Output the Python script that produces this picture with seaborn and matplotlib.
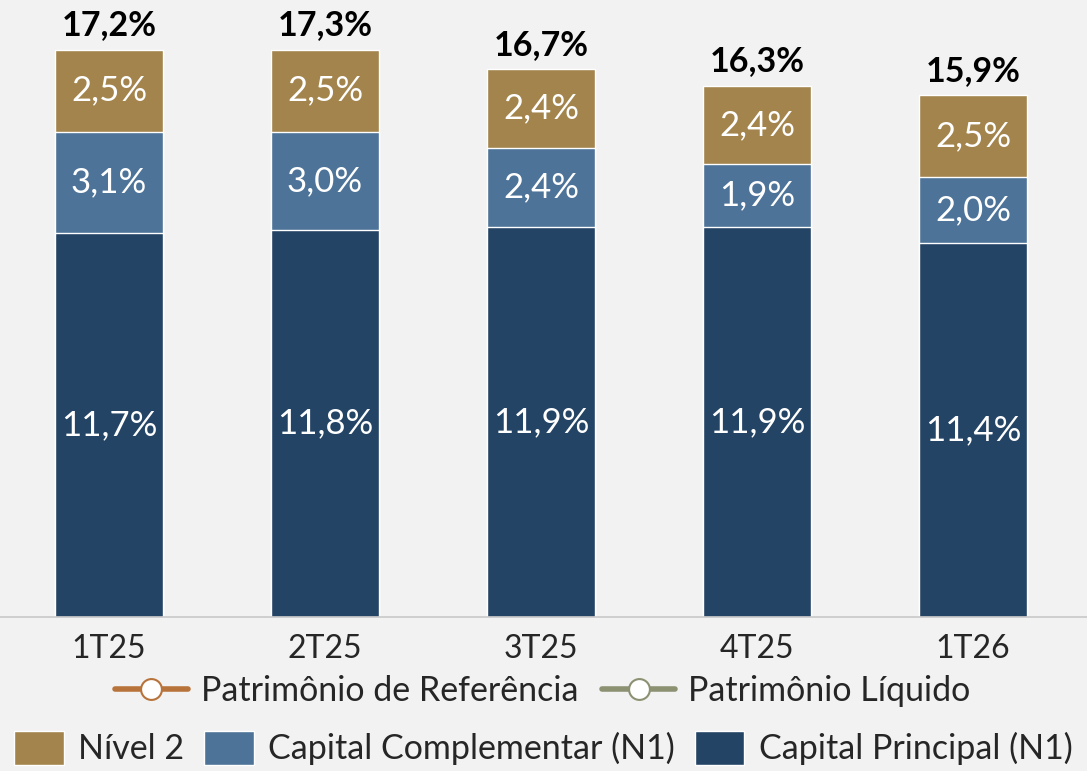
import matplotlib
matplotlib.use('Agg')
import matplotlib.pyplot as plt
import seaborn as sns
import pandas as pd
from matplotlib.lines import Line2D
from matplotlib.patches import Patch

quarters = ['1T25', '2T25', '3T25', '4T25', '1T26']
capital_principal = [11.7, 11.8, 11.9, 11.9, 11.4]
capital_complementar = [3.1, 3.0, 2.4, 1.9, 2.0]
nivel_2 = [2.5, 2.5, 2.4, 2.4, 2.5]
totals = [17.2, 17.3, 16.7, 16.3, 15.9]

col_n2 = '#A3844C'
col_comp = '#4D7399'
col_princ = '#244466'
bg = '#F2F2F2'

sns.set_theme(style='white')
plt.rcParams['font.family'] = ['Lato', 'DejaVu Sans']

df = pd.DataFrame({
    'quarter': quarters,
    'principal': capital_principal,
    'complementar': capital_complementar,
    'nivel2': nivel_2,
})
df['lvl2'] = df['principal'] + df['complementar']
df['lvl3'] = df['lvl2'] + df['nivel2']

fig = plt.figure(figsize=(10.87, 7.71), dpi=100, facecolor=bg)
ax = fig.add_axes([0, 1 - 617 / 771, 1, 617 / 771])
ax.set_facecolor(bg)

sns.barplot(data=df, x='quarter', y='lvl3', color=col_n2, width=0.5, saturation=1, ax=ax)
sns.barplot(data=df, x='quarter', y='lvl2', color=col_comp, width=0.5, saturation=1, ax=ax)
sns.barplot(data=df, x='quarter', y='principal', color=col_princ, width=0.5, saturation=1, ax=ax)

fmt = lambda v: f'{v:.1f}%'.replace('.', ',')
for i in range(len(quarters)):
    p = capital_principal[i]
    c = capital_complementar[i]
    n = nivel_2[i]
    ax.text(i, p / 2, fmt(p), ha='center', va='center', color='white', fontsize=25)
    ax.text(i, p + c / 2, fmt(c), ha='center', va='center', color='white', fontsize=25)
    ax.text(i, p + c + n / 2, fmt(n), ha='center', va='center', color='white', fontsize=25)
    ax.annotate(fmt(totals[i]), (i, p + c + n), xytext=(0, 6), textcoords='offset points',
                ha='center', va='bottom', fontsize=24.5, fontweight='bold', color='black')

ax.set_xlim(-0.505, 4.528)
ax.set_ylim(0, 617 / 32.8)
ax.set_xlabel('')
ax.set_ylabel('')
ax.set_yticks([])
ax.tick_params(axis='x', labelsize=23, pad=12, length=0)
for s in ['top', 'right', 'left']:
    ax.spines[s].set_visible(False)
ax.spines['bottom'].set_color('#C8C8C8')
ax.spines['bottom'].set_linewidth(1.2)

h1 = [Line2D([0], [0], color='#B8733A', lw=4, marker='o', markersize=15,
             markerfacecolor='white', markeredgecolor='#B8733A', markeredgewidth=1.5),
      Line2D([0], [0], color='#8C9172', lw=4, marker='o', markersize=15,
             markerfacecolor='white', markeredgecolor='#8C9172', markeredgewidth=1.5)]
leg1 = fig.legend(h1, ['Patrimônio de Referência', 'Patrimônio Líquido'], loc='center',
                  bbox_to_anchor=(0.499, 1 - 691 / 771), ncol=2, frameon=False, fontsize=24.5,
                  handlelength=2.15, handletextpad=0.37, columnspacing=0.7)

h2 = [Patch(facecolor=col_n2), Patch(facecolor=col_comp), Patch(facecolor=col_princ)]
leg2 = fig.legend(h2, ['Nível 2', 'Capital Complementar (N1)', 'Capital Principal (N1)'],
                  loc='center', bbox_to_anchor=(0.5, 1 - 748 / 771), ncol=3, frameon=False,
                  fontsize=24.5, handlelength=1.45, handleheight=1.15, handletextpad=0.43,
                  columnspacing=0.58, borderaxespad=0, borderpad=0)

fig.savefig('out.png', dpi=100, facecolor=bg)
